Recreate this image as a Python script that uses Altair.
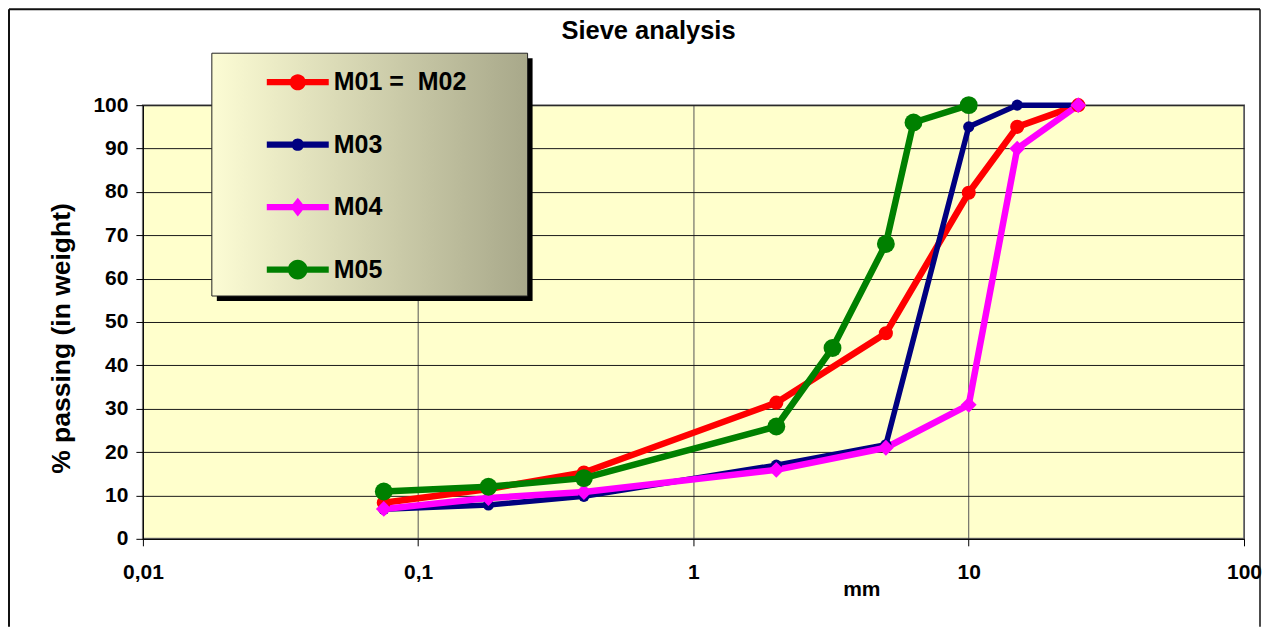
import altair as alt
import pandas as pd

# ---- data ----
series = ["M01 =\u00a0 M02", "M03", "M04", "M05"]
colors = ["#FF0000", "#000080", "#FF00FF", "#008000"]

sieve_m01 = [0.075, 0.18, 0.4, 2, 5, 10, 15, 25]
pass_m01 = [8.3, 11.5, 15.3, 31.4, 47.4, 79.8, 95, 100]
sieve_m03 = [0.075, 0.18, 0.4, 2, 5, 10, 15, 25]
pass_m03 = [6.8, 7.8, 9.8, 17, 21.7, 95, 100, 100]
sieve_m04 = [0.075, 0.18, 0.4, 2, 5, 10, 15, 25]
pass_m04 = [6.9, 9.4, 10.8, 15.9, 21, 30.9, 90, 100]
sieve_m05 = [0.075, 0.18, 0.4, 2, 3.2, 5, 6.3, 10]
pass_m05 = [10.9, 12, 14, 25.9, 44, 68, 96, 100]

x_ticks = [0.01, 0.1, 1, 10, 100]
y_ticks = [0, 10, 20, 30, 40, 50, 60, 70, 80, 90, 100]
title_text = "Sieve analysis"

# ---- styles (per series) ----
marker_shape = ["circle", "circle", "diamond", "circle"]
marker_size = [200, 125, 250, 320]
line_width = [6.5, 5.5, 6.5, 6.5]


def legend_path(kind, r):
    bar = "M-1,-0.1H1V0.1H-1Z"
    if kind == "diamond":
        return bar + f"M0,{-r}L{r*0.8},0L0,{r}L{-r*0.8},0Z"
    return bar + f"M{-r},0A{r},{r},0,1,1,{r},0A{r},{r},0,1,1,{-r},0Z"


legend_shapes = [legend_path("circle", 0.26), legend_path("circle", 0.2),
                 legend_path("diamond", 0.3), legend_path("circle", 0.32)]

rows = []
for i, (s, xs, ys) in enumerate(zip(series,
                                    [sieve_m01, sieve_m03, sieve_m04, sieve_m05],
                                    [pass_m01, pass_m03, pass_m04, pass_m05])):
    for xv, yv in zip(xs, ys):
        rows.append({"series": s, "sieve": xv, "passing": yv,
                     "marker": marker_shape[i], "msize": marker_size[i],
                     "lw": line_width[i]})
df = pd.DataFrame(rows)

FONT = "Liberation Sans"

x_enc = alt.X("sieve:Q",
              scale=alt.Scale(type="log", domain=[0.01, 100], nice=False),
              axis=alt.Axis(values=x_ticks, title="mm",
                            labelExpr="replace(toString(datum.value), '.', ',')",
                            labelFlush=False, labelOverlap=False,
                            grid=True, gridColor="#555555", gridWidth=1,
                            tickSize=7, tickColor="black", domainColor="black",
                            labelPadding=16, labelFontSize=21,
                            titleX=719, titleY=57, titleBaseline="alphabetic",
                            titleFontSize=21))
y_enc = alt.Y("passing:Q",
              scale=alt.Scale(domain=[0, 100], nice=False),
              axis=alt.Axis(values=y_ticks, title="% passing (in weight)",
                            labelFlush=False, labelOverlap=False,
                            grid=True, gridColor="#1a1a1a", gridWidth=1,
                            tickSize=7, tickColor="black", domainColor="black",
                            labelPadding=8, labelFontSize=21,
                            titleX=-81, titleY=233, titleBaseline="middle",
                            titleAngle=270, titleFontSize=26.5))
color_scale = alt.Scale(domain=series, range=colors)

leg = alt.Legend(orient="none", legendX=124, legendY=-54,
                 title=None, padding=0, symbolSize=3844,
                 symbolStrokeWidth=0, symbolOpacity=1,
                 labelOffset=5, labelFont=FONT,
                 labelFontSize=25, labelFontWeight="bold",
                 labelColor="black", rowPadding=18.5,
                 labelLimit=400)

base = alt.Chart(df)

legend_layer = base.mark_point(filled=True, size=0, strokeWidth=0).encode(
    x=x_enc, y=y_enc,
    color=alt.Color("series:N", scale=color_scale, legend=leg),
    shape=alt.Shape("series:N", scale=alt.Scale(domain=series, range=legend_shapes),
                    legend=leg),
)

lines = base.mark_line(strokeJoin="round").encode(
    x="sieve:Q", y="passing:Q",
    color=alt.Color("series:N", scale=color_scale, legend=None),
    strokeWidth=alt.StrokeWidth("lw:Q", scale=None),
)

points = base.mark_point(filled=True, opacity=1, strokeWidth=0).encode(
    x="sieve:Q", y="passing:Q",
    color=alt.Color("series:N", scale=color_scale, legend=None),
    shape=alt.Shape("marker:N", scale=None, legend=None),
    size=alt.Size("msize:Q", scale=None, legend=None),
)

one = alt.Data(values=[{"k": 1}])

shadow = alt.Chart(one).mark_rect(color="black").encode(
    x=alt.value(74), x2=alt.value(390), y=alt.value(-47), y2=alt.value(196))

legend_box = alt.Chart(one).mark_rect(
    fill=alt.Gradient(gradient="linear", x1=0, x2=1, y1=0, y2=0,
                      stops=[alt.GradientStop(color="#FCFCD4", offset=0),
                             alt.GradientStop(color="#A8A88A", offset=1)]),
    stroke="#222222", strokeWidth=1).encode(
    x=alt.value(69), x2=alt.value(385), y=alt.value(-52), y2=alt.value(191))

border_left = alt.Chart(one).mark_rule(color="#111111", strokeWidth=2).encode(
    x=alt.value(-134), y=alt.value(-96), y2=alt.value(522))
border_top = alt.Chart(one).mark_rule(color="#111111", strokeWidth=2).encode(
    x=alt.value(-134), x2=alt.value(1118), y=alt.value(-96))
border_right = alt.Chart(one).mark_rule(color="#111111", strokeWidth=1.5).encode(
    x=alt.value(1118), y=alt.value(-96), y2=alt.value(522))

title_mark = alt.Chart(one).mark_text(
    text=title_text, font=FONT, fontSize=25.5, fontWeight="bold", color="black",
    align="center", baseline="alphabetic").encode(
    x=alt.value(506), y=alt.value(-66))

chart = alt.layer(
    legend_layer,
    border_left, border_top, border_right, title_mark,
    lines, points, shadow, legend_box,
).properties(
    width=1102, height=434,
    padding=0,
    background="white",
).configure_view(
    fill="#FFFFCC", stroke="#808080", strokeWidth=2,
).configure_axis(
    labelFont=FONT, titleFont=FONT, labelFontWeight="bold",
    titleFontWeight="bold", labelColor="black", titleColor="black",
)

chart.save("out.html", embed_options={"renderer": "svg", "actions": False})
